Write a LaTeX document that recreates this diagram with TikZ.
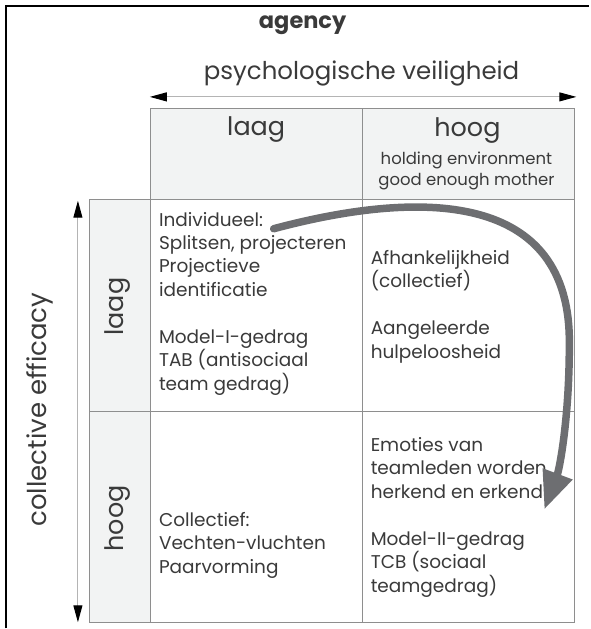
\documentclass[tikz,border=0pt]{standalone}
\usepackage{fontspec}
\setmainfont{Poppins}
\usetikzlibrary{arrows.meta}

\definecolor{cellgrey}{HTML}{F2F3F3}
\definecolor{linegrey}{HTML}{8E8E8E}
\definecolor{axisgrey}{HTML}{B4B4B4}
\definecolor{flowgrey}{HTML}{6D6E71}
\definecolor{textgrey}{HTML}{3A3A3A}

\begin{document}
\begin{tikzpicture}[x=1pt, y=-1pt, >=Triangle]

    \tikzset{%
    every cell/.style={
        draw=linegrey,
        line width=0.8pt,
        inner sep=0pt
        },
    head cell/.style={
        fill=cellgrey
        },
    cell text/.style={
        anchor=west,
        align=left,
        inner sep=0pt,
        text=textgrey,
        font=\fontsize{18.5}{23.5}\selectfont
        },
    head text/.style={
        text=textgrey,
        font=\fontsize{25.5}{28}\selectfont
        },
    axis/.style={
        axisgrey,
        line width=1pt,
        {Triangle[width=9pt,length=17pt,color=black]}-{Triangle[width=9pt,length=17pt,color=black]}
        },
    flow/.style={
        flowgrey,
        line width=7.5pt,
        line cap=round,
        -{Triangle[width=30pt,length=38pt]}
        },
    }

    % Frame (top and left edge only)
    \draw [line width=1.5pt] (6,629) -- (6,6) -- (590,6);
    \useasboundingbox (0,0) rectangle (590,629);

    % Column headers
    \foreach \m/\x in {1/256.5,2/469}
    \node [every cell/.try, head cell, minimum width=212.5pt, minimum height=91pt] (head-\m) at (\x,154.5) {};

    % Row headers
    \foreach \m/\y/\h in {1/306/212,2/517.5/211}
    \node [every cell/.try, head cell, minimum width=61pt, minimum height=\h pt] (side-\m) at (120.5,\y) {};

    % Body cells
    \foreach \r/\y/\h in {1/306/212,2/517.5/211}
    \foreach \c/\x in {1/256.5,2/469}
    \node [every cell/.try, minimum width=212.5pt, minimum height=\h pt] (cell-\r-\c) at (\x,\y) {};

    % Titles
    \node [font=\fontsize{22.5}{26}\bfseries\selectfont, text=textgrey] (agency) at (303,25) {agency};
    \node [head text, font=\fontsize{24.5}{28}\selectfont] (psy) at (362,74) {psychologische veiligheid};
    \node [head text, font=\fontsize{26}{28}\selectfont, rotate=90] (eff) at (40,410) {collective efficacy};

    % Axis arrows
    \coordinate (psy-l) at (150,97);
    \coordinate (psy-r) at (577,97);
    \draw [axis] (psy-l) -- (psy-r);
    \coordinate (eff-t) at (78,201);
    \coordinate (eff-b) at (78,623);
    \draw [axis] (eff-t) -- (eff-b);

    % Header labels
    \node [head text] (laag-col) at (256.5,130) {laag};
    \node [head text] (hoog-col) at (468,131) {hoog};
    \node [font=\fontsize{16.5}{21}\selectfont, text=textgrey, align=center] (hold) at (467,171)
        {holding environment\\good enough mother};
    \node [head text, rotate=90] (laag-row) at (118,307) {laag};
    \node [head text, rotate=90] (hoog-row) at (118,519) {hoog};

    % Cell texts
    \node [cell text] (txt-1-1) at (159,304) {Individueel:\\Splitsen, projecteren\\Projectieve\\identificatie\\[23.5pt]Model-I-gedrag\\TAB (antisociaal\\team gedrag)};
    \node [cell text] (txt-1-2) at (371,307) {Afhankelijkheid\\(collectief)\\[23.5pt]Aangeleerde\\hulpeloosheid};
    \node [cell text] (txt-2-1) at (159,546) {Collectief:\\Vechten-vluchten\\Paarvorming};
    \node [cell text] (txt-2-2) at (371,518) {Emoties van\\teamleden worden\\herkend en erkend\\[23.5pt]Model-II-gedrag\\TCB (sociaal\\teamgedrag)};

    % Curved arrow from individual to shared
    \coordinate (flow-start) at (274,229);
    \coordinate (flow-end) at (545,510);
    \draw [flow] (flow-start) .. controls (420,190) and (572,190) .. (570,345)
        .. controls (570,420) and (560,470) .. (flow-end);

\end{tikzpicture}
\end{document}
